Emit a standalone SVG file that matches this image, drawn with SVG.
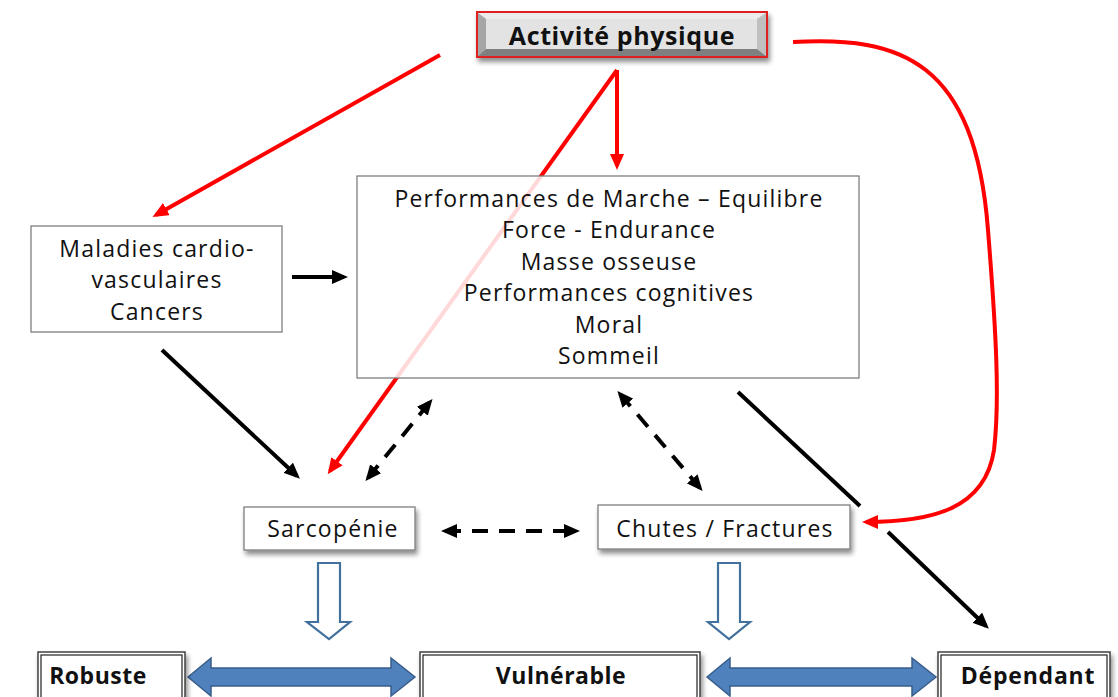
<svg xmlns="http://www.w3.org/2000/svg" width="1118" height="697" viewBox="0 0 1118 697">
<style>
  .t { font-family: "Open Sans", "Liberation Sans", sans-serif; fill: #111; text-anchor: middle; font-size: 23px; letter-spacing: 1.2px; }
  .tb { font-family: "Open Sans", "Liberation Sans", sans-serif; font-weight: bold; fill: #111; text-anchor: middle; }
  .box { fill: #fff; stroke: #7f7f7f; stroke-width: 1.3; }
  .red { fill: none; stroke: #ff0000; stroke-width: 4; }
  .blk { fill: none; stroke: #000; stroke-width: 4; }
  .dash { fill: none; stroke: #000; stroke-width: 4; stroke-dasharray: 16 11; }
  .hollow { fill: #fff; stroke: #41719c; stroke-width: 2.2; }
  .blue { fill: #4f81bd; stroke: #385d8a; stroke-width: 1.5; }
  .dbl-o { fill: #fff; stroke: #404040; stroke-width: 1.5; }
  .dbl-i { fill: none; stroke: #202020; stroke-width: 1.2; }
</style>
<defs>
  <marker id="ar" markerUnits="userSpaceOnUse" markerWidth="16" markerHeight="14" refX="12" refY="7" orient="auto-start-reverse">
    <path d="M0,0 L16,7 L0,14 z" fill="#ff0000"/>
  </marker>
  <marker id="ab" markerUnits="userSpaceOnUse" markerWidth="16" markerHeight="14" refX="12" refY="7" orient="auto-start-reverse">
    <path d="M0,0 L16,7 L0,14 z" fill="#000"/>
  </marker>
  <filter id="sh" x="-10%" y="-20%" width="130%" height="160%">
    <feGaussianBlur in="SourceAlpha" stdDeviation="2.5"/>
    <feOffset dx="2" dy="4" result="b"/>
    <feComponentTransfer><feFuncA type="linear" slope="0.45"/></feComponentTransfer>
    <feMerge><feMergeNode/><feMergeNode in="SourceGraphic"/></feMerge>
  </filter>
</defs>
<rect width="1118" height="697" fill="#fff"/>

<g id="connectors">
  <line class="red" x1="440" y1="55" x2="156" y2="215" marker-end="url(#ar)"/>
  <line class="red" x1="617" y1="70" x2="617" y2="166" marker-end="url(#ar)"/>
  <line class="red" x1="617" y1="70" x2="330" y2="471" marker-end="url(#ar)"/>
  <path class="red" d="M793,42 C900,36 975,60 988,230 C996,330 1000,400 994,450 C985,510 930,522 866,522" marker-end="url(#ar)"/>
  <line class="blk" x1="292" y1="277" x2="344" y2="277" marker-end="url(#ab)"/>
  <line class="blk" x1="162" y1="350" x2="297" y2="476" marker-end="url(#ab)"/>
  <line class="dash" x1="368" y1="478" x2="430" y2="402" marker-start="url(#ab)" marker-end="url(#ab)"/>
  <line class="dash" x1="620" y1="394" x2="700" y2="488" marker-start="url(#ab)" marker-end="url(#ab)"/>
  <line class="dash" x1="445" y1="531" x2="576" y2="531" stroke-dasharray="10 14 20 14 20 14 10 0" marker-start="url(#ab)" marker-end="url(#ab)"/>
  <line class="blk" x1="738" y1="392" x2="860" y2="506"/>
  <line class="blk" x1="888" y1="532" x2="986" y2="626" marker-end="url(#ab)"/>
</g>

<g id="activite">
  <g filter="url(#sh)">
    <rect x="477" y="12" width="290" height="45" fill="#d9d9d9" stroke="#e0201e" stroke-width="2"/>
  </g>
  <polygon points="478,13 766,13 757,19 486,19" fill="#ececec"/>
  <polygon points="478,13 486,19 486,49 478,56" fill="#a6a6a6"/>
  <polygon points="766,13 766,56 757,49 757,19" fill="#bfbfbf"/>
  <polygon points="478,56 486,49 757,49 766,56" fill="#7f7f7f"/>
  <rect x="486" y="19" width="271" height="30" fill="#e3e3e3"/>
  <rect x="477" y="12" width="290" height="45" fill="none" stroke="#e0201e" stroke-width="2"/>
  <text class="tb" x="622" y="45" font-size="25" letter-spacing="0.6">Activité physique</text>
</g>

<g id="performances">
  <rect x="357" y="176" width="502" height="202" fill="#fff" fill-opacity="0.85" stroke="#7f7f7f" stroke-width="1.3"/>
  <text class="t" x="609" y="207">Performances de Marche – Equilibre</text>
  <text class="t" x="609" y="238">Force - Endurance</text>
  <text class="t" x="609" y="270">Masse osseuse</text>
  <text class="t" x="609" y="301">Performances cognitives</text>
  <text class="t" x="609" y="333">Moral</text>
  <text class="t" x="609" y="364">Sommeil</text>
</g>

<g id="maladies">
  <rect class="box" x="31" y="226" width="251" height="106"/>
  <text class="t" x="157" y="257">Maladies cardio-</text>
  <text class="t" x="157" y="288">vasculaires</text>
  <text class="t" x="157" y="320">Cancers</text>
</g>

<g id="sarcopenie">
  <rect class="box" x="244" y="507" width="171" height="43" filter="url(#sh)"/>
  <text class="t" x="333" y="537">Sarcopénie</text>
</g>

<g id="chutes">
  <rect class="box" x="598" y="505" width="252" height="44" filter="url(#sh)"/>
  <text class="t" x="725" y="537">Chutes / Fractures</text>
</g>

<g id="hollow-arrows">
  <polygon class="hollow" points="318,563 340,563 340,622 350,622 329,639 307,622 318,622"/>
  <polygon class="hollow" points="718,563 740,563 740,622 750,622 729,639 708,622 718,622"/>
</g>

<g id="blue-arrows">
  <polygon class="blue" points="188,677 211,658 211,668 391,668 391,658 415,677 391,696 391,686 211,686 211,696"/>
  <polygon class="blue" points="707,677 730,658 730,668 912,668 912,658 936,677 912,696 912,686 730,686 730,696"/>
</g>

<g id="robuste">
  <rect class="dbl-o" x="38" y="652" width="147" height="50" filter="url(#sh)"/>
  <rect class="dbl-i" x="41" y="655" width="141" height="44"/>
  <text class="tb" x="98" y="684" font-size="23" letter-spacing="0.5">Robuste</text>
</g>
<g id="vulnerable">
  <rect class="dbl-o" x="420" y="652" width="280" height="50" filter="url(#sh)"/>
  <rect class="dbl-i" x="423" y="655" width="274" height="44"/>
  <text class="tb" x="561" y="684" font-size="23" letter-spacing="0.5">Vulnérable</text>
</g>
<g id="dependant">
  <rect class="dbl-o" x="938" y="652" width="172" height="50" filter="url(#sh)"/>
  <rect class="dbl-i" x="941" y="655" width="166" height="44"/>
  <text class="tb" x="1028" y="684" font-size="23" letter-spacing="0.8">Dépendant</text>
</g>
</svg>
